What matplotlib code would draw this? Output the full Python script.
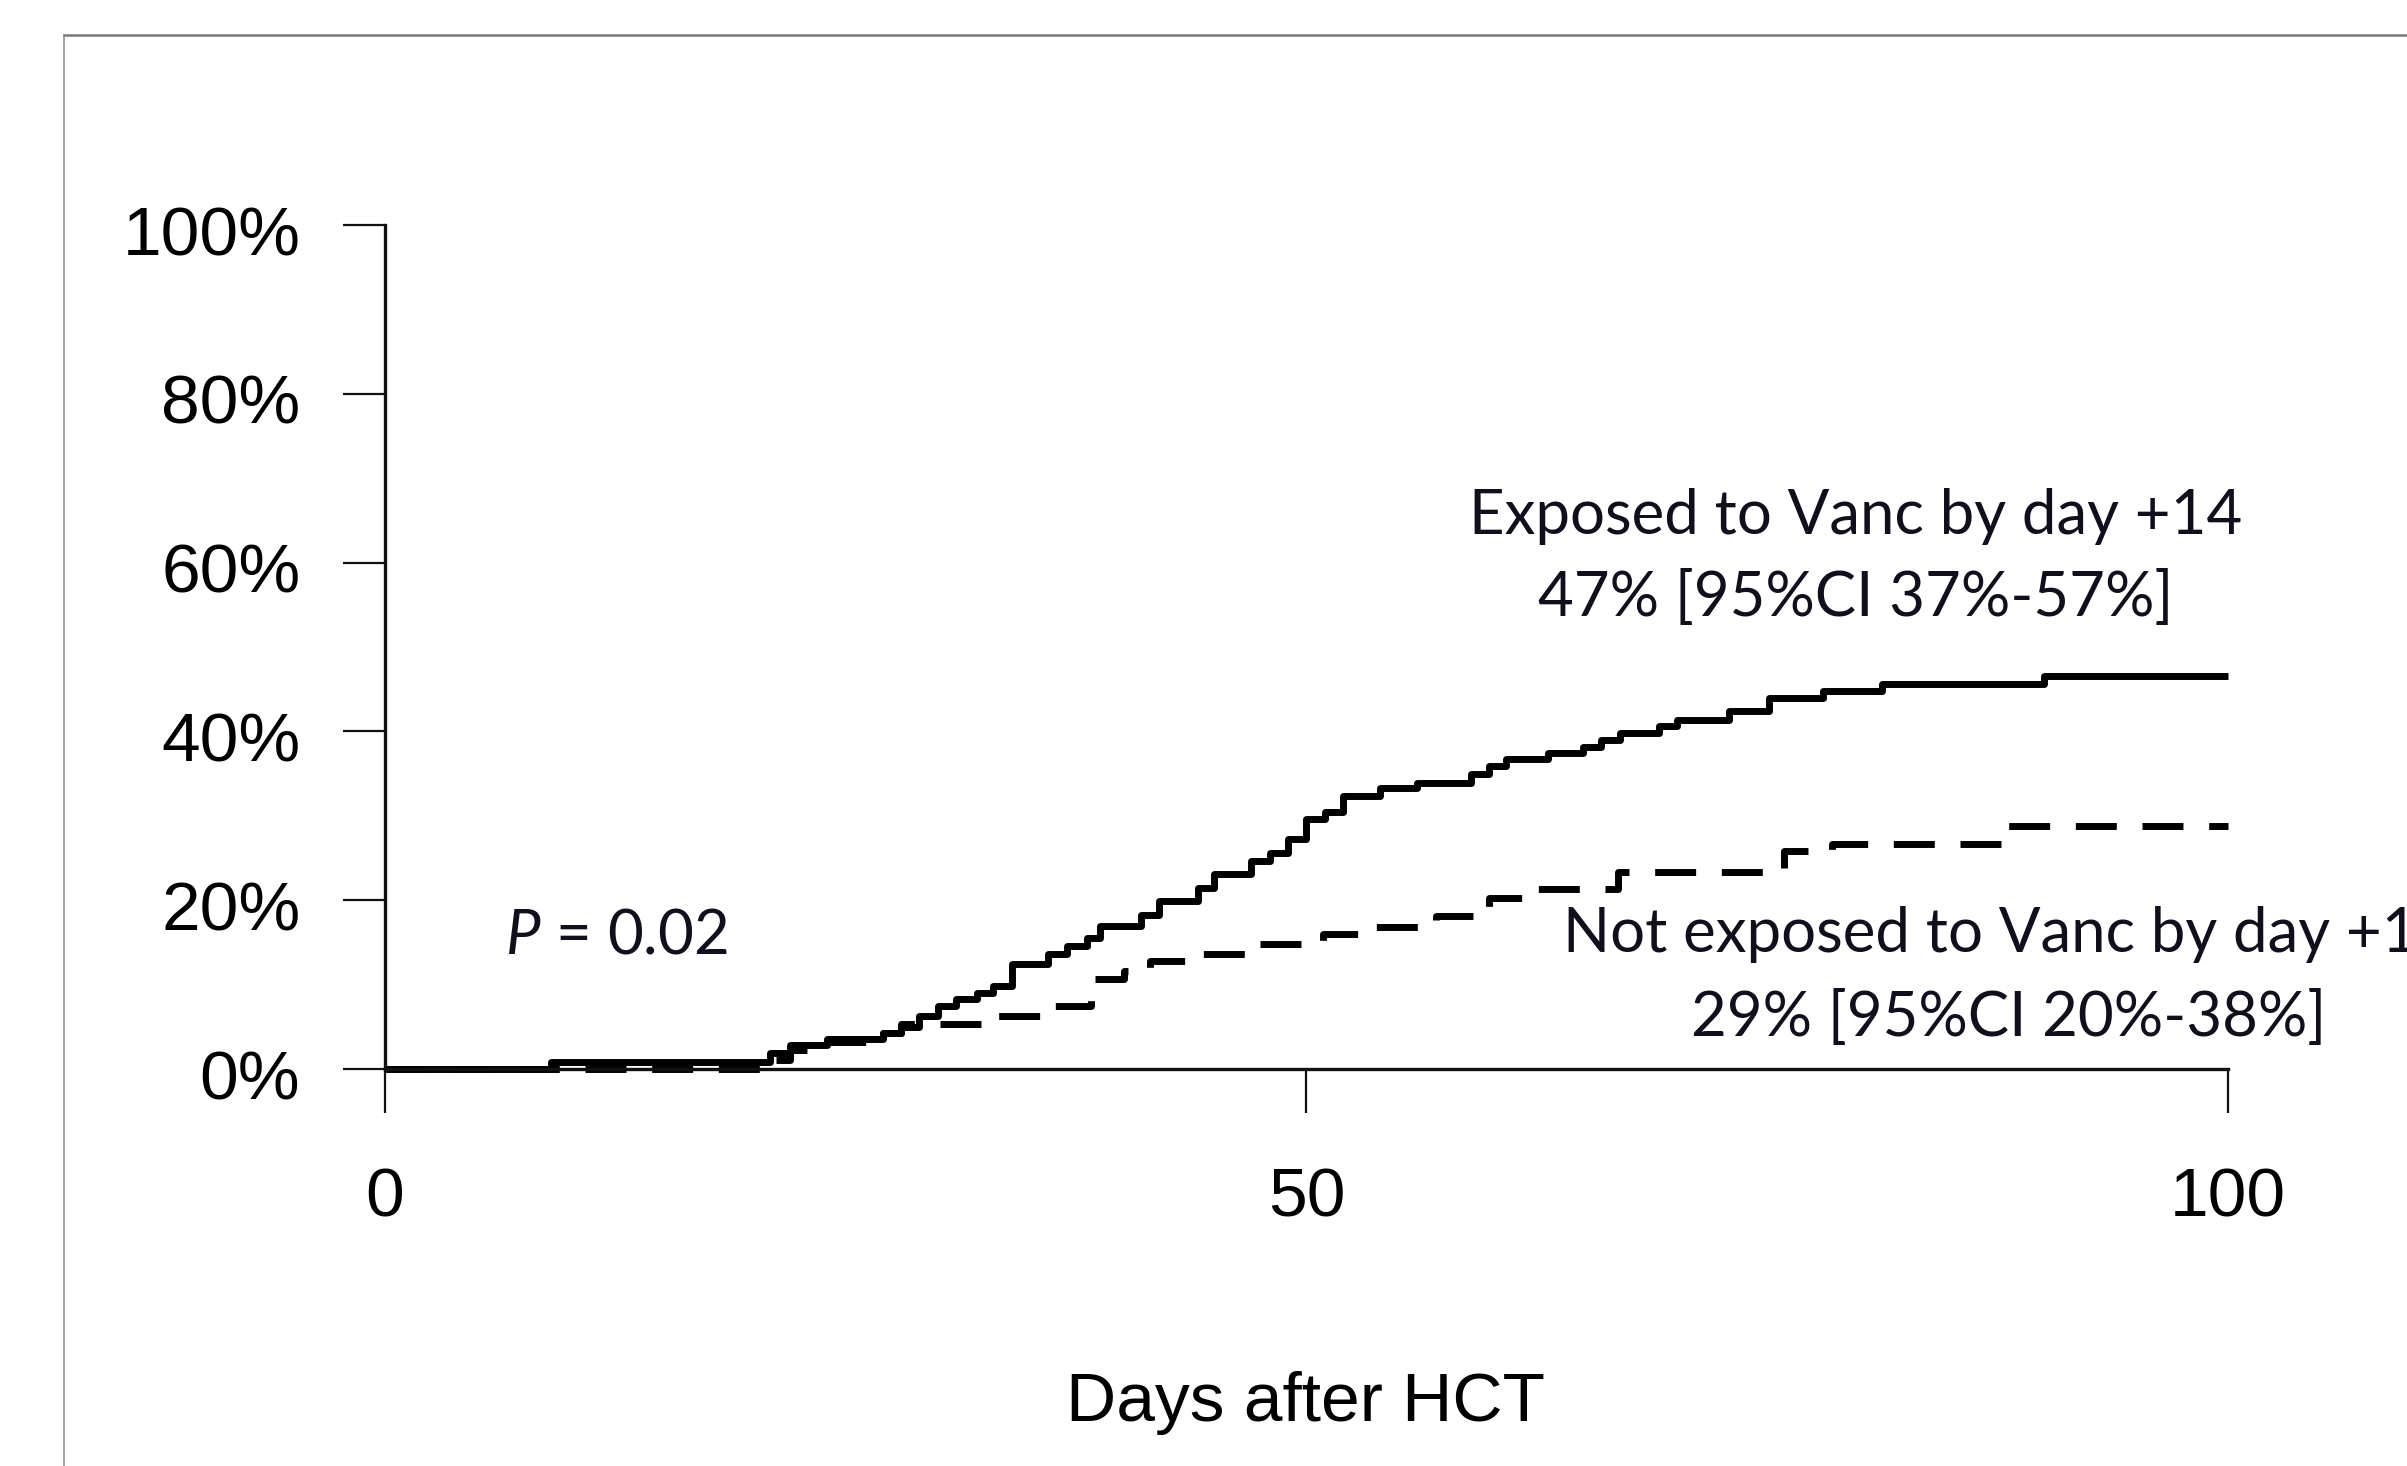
import matplotlib
matplotlib.use("Agg")
import matplotlib.pyplot as plt
from matplotlib.lines import Line2D
import matplotlib.transforms as mtransforms

# ---------------- data ----------------
exposed_days = [0, 9, 20.9, 22, 24, 27, 28, 29, 30, 31, 32.1, 33, 34, 36, 37, 38.1,
                38.8, 41, 42, 44.1, 45, 47, 48, 49, 50, 51, 52, 54, 56, 58.9, 59.9,
                60.8, 63.1, 65, 66, 67, 69.1, 70.1, 72.9, 75.1, 78, 81.2, 90, 100]
exposed_pct = [0, 0.8, 1.9, 2.9, 3.5, 4.3, 5.0, 6.3, 7.5, 8.3, 9.0, 9.8, 12.5, 13.6, 14.6, 15.5,
               17.0, 18.2, 19.9, 21.4, 23.1, 24.6, 25.6, 27.2, 29.6, 30.5, 32.3, 33.3, 33.9, 35.0, 35.9,
               36.7, 37.4, 38.2, 39.0, 39.8, 40.6, 41.4, 42.4, 43.9, 44.8, 45.6, 46.6, 46.6]

unexposed_days = [0, 21, 22, 24, 27, 28, 32.5, 36, 38.3, 40.1, 41.5, 44, 47, 50.9, 53.5,
                  57, 59.9, 62.5, 66.9, 75.9, 78.5, 87.8, 100]
unexposed_pct = [0, 1.1, 2.2, 3.2, 4.3, 5.3, 6.3, 7.5, 10.7, 11.6, 12.8, 13.6, 14.8, 16.0, 16.8,
                 18.1, 20.3, 21.3, 23.4, 25.8, 26.6, 28.8, 28.8]

x_ticks = [0, 50, 100]
x_tick_labels = ["0", "50", "100"]
y_ticks = [0, 20, 40, 60, 80, 100]
y_tick_labels = ["0%", "20%", "40%", "60%", "80%", "100%"]
exposed_label = ["Exposed to Vanc by day +14", "47% [95%CI 37%-57%]"]
unexposed_label = ["Not exposed to Vanc by day +14", "29% [95%CI 20%-38%]"]
p_label = r"$P$ = 0.02"
x_label = "Days after HCT"

# ---------------- style ----------------
plt.rcParams['lines.scale_dashes'] = False
plt.rcParams['mathtext.fontset'] = 'custom'
plt.rcParams['mathtext.it'] = 'Lato:italic'
plt.rcParams['mathtext.rm'] = 'Lato'

W, H = 2407, 1466
fig = plt.figure(figsize=(W / 100, H / 100), dpi=100)
fig.patch.set_facecolor('white')

x0px, x100px = 385, 2228
y0px, y100px = 1069, 225
ax = fig.add_axes([x0px / W, 1 - y0px / H, (x100px - x0px) / W, (y0px - y100px) / H])
ax.set_xlim(0, 100)
ax.set_ylim(0, 100)
for s in ['top', 'right']:
    ax.spines[s].set_visible(False)
for s in ['left', 'bottom']:
    ax.spines[s].set_linewidth(2.4)
    ax.spines[s].set_color('#111111')

ax.step(unexposed_days, unexposed_pct, where='post', color='black', lw=5.0,
        dashes=(29.5, 18.5), dash_capstyle='butt', clip_on=False)
ax.step(exposed_days, exposed_pct, where='post', color='black', lw=5.0,
        clip_on=False, solid_capstyle='butt')

tick_font = 'Liberation Sans'
ax.set_xticks(x_ticks)
ax.set_xticklabels(x_tick_labels, fontfamily=tick_font, fontsize=50)
ax.set_yticks(y_ticks)
ax.set_yticklabels(y_tick_labels, fontfamily=tick_font, fontsize=50)
ax.tick_params(axis='x', length=32, width=1.6, pad=38, direction='out', color='#111111')
ax.tick_params(axis='y', length=30, width=1.6, pad=31, direction='out', color='#111111')
shift = mtransforms.ScaledTranslation(0, -5 / 100, fig.dpi_scale_trans)
for lab in ax.get_yticklabels():
    lab.set_transform(lab.get_transform() + shift)

fig.text(1305 / W, 1 - 1421 / H, x_label, ha='center', va='baseline',
         fontfamily=tick_font, fontsize=50)

# annotations
txt_color = '#10101c'
ann_font = 'Lato'
texts = []
texts.append(ax.text(79.8, 63.4, exposed_label[0], ha='center', va='baseline',
                     fontfamily=ann_font, fontsize=48, color=txt_color, clip_on=False))
texts.append(ax.text(79.8, 53.7, exposed_label[1], ha='center', va='baseline',
                     fontfamily=ann_font, fontsize=48, color=txt_color, clip_on=False))
texts.append(ax.text(88.1, 13.9, unexposed_label[0], ha='center', va='baseline',
                     fontfamily=ann_font, fontsize=48, color=txt_color, clip_on=False))
texts.append(ax.text(88.1, 3.9, unexposed_label[1], ha='center', va='baseline',
                     fontfamily=ann_font, fontsize=48, color=txt_color, clip_on=False))
texts.append(ax.text(6.5, 13.7, p_label, ha='left', va='baseline',
                     fontfamily=ann_font, fontsize=48, color=txt_color, clip_on=False))

renderer = fig.canvas.get_renderer()
w = texts[0].get_window_extent(renderer).width
size = 48 * 774 / w
for t in texts:
    t.set_fontsize(size)

# frame lines of the original figure (cropped on the right/bottom)
fig.add_artist(Line2D([64 / W, 1.0], [1 - 35 / H, 1 - 35 / H], transform=fig.transFigure,
                      color='#7a7a7a', lw=1.8))
fig.add_artist(Line2D([64 / W, 64 / W], [0.0, 1 - 35 / H], transform=fig.transFigure,
                      color='#8a8a8a', lw=1.1))

fig.savefig('out.png', dpi=100)
